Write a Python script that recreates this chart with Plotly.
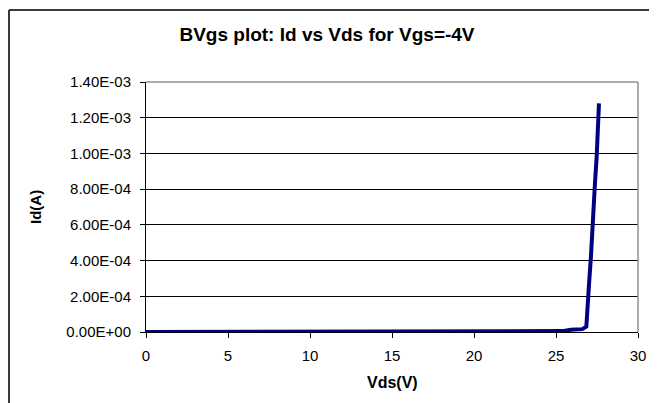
import plotly.graph_objects as go

vds = [0.0, 3.0, 7.2, 7.4, 12.0, 18.0, 24.0, 25.4, 25.9, 26.6, 26.85, 26.95, 27.03, 27.13, 27.27, 27.38, 27.48, 27.62]
id_a = [0.0, 0.0, 0.0, 3.0e-6, 3.0e-6, 3.0e-6, 3.0e-6, 5.0e-6, 1.2e-5, 1.6e-5, 3.0e-5, 1.4e-4, 2.9e-4, 4.2e-4, 7.2e-4, 8.4e-4, 9.8e-4, 1.28e-3]

y_ticks = [0.0, 2e-4, 4e-4, 6e-4, 8e-4, 1e-3, 1.2e-3, 1.4e-3]
y_tick_labels = ['0.00E+00', '2.00E-04', '4.00E-04', '6.00E-04', '8.00E-04', '1.00E-03', '1.20E-03', '1.40E-03']
x_ticks = [0, 5, 10, 15, 20, 25, 30]

FONT = 'Liberation Sans, Arial, sans-serif'
OFF = 8  # page body margin shifts the figure by this much

W, H = 657 - OFF, 403 - OFF
PL, PR, PT, PB = 146 - OFF, 638 - OFF, 82 - OFF, 332 - OFF  # plot area in figure pixels
PW, PH = PR - PL, PB - PT

frame_x = (1 - PL) / PW       # outer chart frame, left edge (figure pixel 1)
frame_y = 1 + (PT - 2) / PH   # outer chart frame, top edge (figure pixel 2)

fig = go.Figure(go.Scatter(
    x=vds,
    y=id_a,
    mode='lines',
    line={'color': '#000080', 'width': 4},
    showlegend=False,
))

fig.update_layout(
    width=W,
    height=H,
    margin={'l': PL, 'r': W - PR, 't': PT, 'b': H - PB},
    paper_bgcolor='white',
    plot_bgcolor='white',
    font={'family': FONT, 'size': 15, 'color': 'black'},
    title={
        'text': '<b>BVgs plot: Id vs Vds for Vgs=-4V</b>',
        'x': (327 - OFF) / W,
        'xanchor': 'center',
        'y': 1 - (34 - OFF) / H,
        'yanchor': 'middle',
        'font': {'family': FONT, 'size': 19, 'color': 'black'},
    },
    xaxis={
        'range': [0, 30],
        'tickvals': x_ticks,
        'showgrid': False,
        'zeroline': False,
        'showline': True,
        'linecolor': 'black',
        'linewidth': 1,
        'ticks': 'outside',
        'ticklen': 5,
        'tickcolor': 'black',
        'ticklabelstandoff': 5,
        'tickfont': {'size': 15},
    },
    yaxis={
        'range': [0, 1.4e-3],
        'tickvals': y_ticks,
        'ticktext': y_tick_labels,
        'showgrid': True,
        'gridcolor': 'black',
        'gridwidth': 1,
        'zeroline': False,
        'showline': True,
        'linecolor': 'black',
        'linewidth': 1,
        'ticks': 'outside',
        'ticklen': 5,
        'tickcolor': 'black',
        'ticklabelstandoff': 6,
        'tickfont': {'size': 15},
    },
    annotations=[
        {
            'text': '<b>Vds(V)</b>', 'xref': 'paper', 'yref': 'paper',
            'x': 0.5, 'y': (332 - 382) / PH, 'xanchor': 'center', 'yanchor': 'middle',
            'showarrow': False, 'font': {'size': 16},
        },
        {
            'text': '<b>Id(A)</b>', 'xref': 'paper', 'yref': 'paper',
            'x': (35 - 146) / PW, 'y': 0.5, 'xanchor': 'center', 'yanchor': 'middle',
            'textangle': -90, 'showarrow': False, 'font': {'size': 15},
        },
    ],
    shapes=[
        # outer chart frame (right and bottom edges fall outside the picture)
        {'type': 'line', 'xref': 'paper', 'yref': 'paper',
         'x0': frame_x, 'x1': 1.2, 'y0': frame_y, 'y1': frame_y,
         'line': {'color': '#3a3a3a', 'width': 2}},
        {'type': 'line', 'xref': 'paper', 'yref': 'paper',
         'x0': frame_x, 'x1': frame_x, 'y0': -0.5, 'y1': frame_y,
         'line': {'color': '#3a3a3a', 'width': 2}},
        # grey plot-area border on top and right
        {'type': 'line', 'xref': 'paper', 'yref': 'paper',
         'x0': 0, 'x1': 1, 'y0': 1, 'y1': 1, 'line': {'color': '#909090', 'width': 1.5}},
        {'type': 'line', 'xref': 'paper', 'yref': 'paper',
         'x0': 1, 'x1': 1, 'y0': 0, 'y1': 1, 'line': {'color': '#909090', 'width': 1.5}},
    ],
)

fig.write_html('out.html')
